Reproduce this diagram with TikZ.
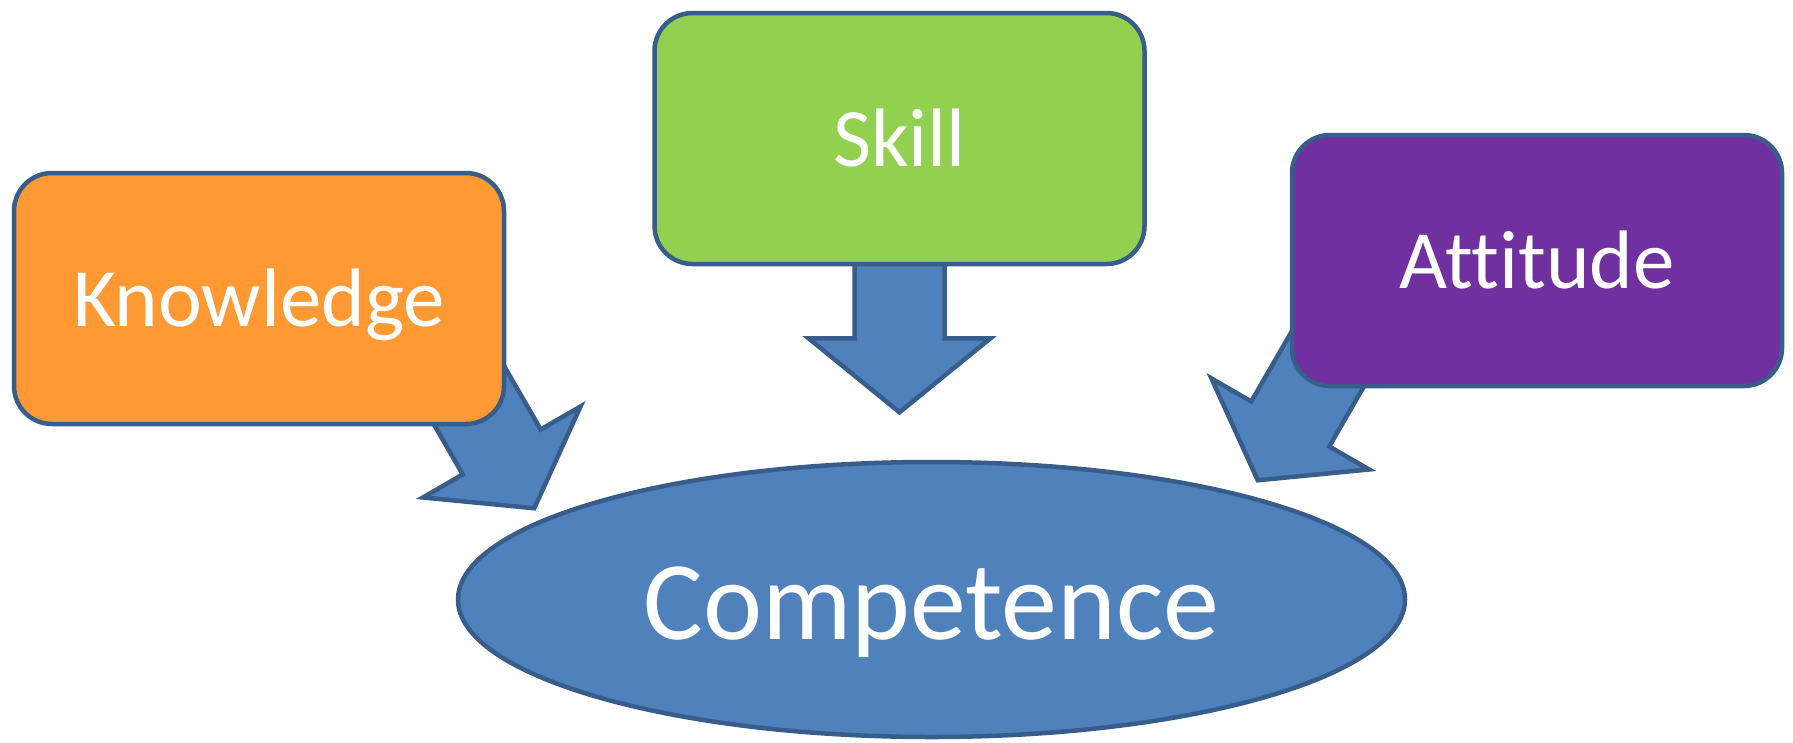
\documentclass[tikz,border=0pt]{standalone}
\usepackage{fontspec}
\setmainfont{Carlito}[Ligatures={NoCommon}]
\usetikzlibrary{shapes.geometric,backgrounds,calc}
\definecolor{borderblue}{HTML}{385D8A}
\definecolor{fillblue}{HTML}{4F81BD}
\definecolor{korange}{HTML}{FF9933}
\definecolor{sgreen}{HTML}{92D050}
\definecolor{apurple}{HTML}{7030A0}
\begin{document}
\begin{tikzpicture}[x=1pt,y=-1pt,
  box/.style={draw=borderblue, line width=4.5pt, rounded corners=38pt,
    minimum width=490pt, minimum height=251pt, inner sep=0pt, text=white,
    font=\fontsize{83}{90}\selectfont, text height=56pt, text depth=0pt},
  comp/.style={ellipse, draw=borderblue, line width=4.5pt, fill=fillblue,
    minimum width=947pt, minimum height=275pt, inner sep=0pt, text=white,
    font=\fontsize{112}{120}\selectfont, text height=80pt, text depth=0pt},
  blockarrow/.style={draw=borderblue, line width=4.5pt, fill=fillblue, line join=miter}]
\useasboundingbox (0,0) rectangle (1793,742);
\node[box, fill=korange] (know) at (259,298.5) {Knowledge};
\node[box, fill=sgreen] (skill) at (899.5,138.5) {Skill};
\node[box, fill=apurple] (att) at (1537,260.5) {Attitude};
\node[comp] (comp) at (931.5,599.5) {Competence};
\coordinate (stip) at ($(skill.south)+(0,146)$);
\coordinate (ktip) at ($(know.south east)+(28,82)$);
\coordinate (atip) at ($(att.south west)+(-32,92)$);
\begin{scope}[on background layer]
  \begin{scope}[shift={(stip)}]
    \draw[blockarrow] (-45,-210) -- (-45,-74) -- (-91,-74) -- (0,0) -- (91,-74) -- (45,-74) -- (45,-210) -- cycle;
  \end{scope}
  \begin{scope}[shift={(ktip)}, rotate=30]
    \draw[blockarrow] (-45,-200) -- (-45,-65) -- (-91,-65) -- (0,0) -- (91,-65) -- (45,-65) -- (45,-200) -- cycle;
  \end{scope}
  \begin{scope}[shift={(atip)}, rotate=-30]
    \draw[blockarrow] (-45,-200) -- (-45,-65) -- (-91,-65) -- (0,0) -- (91,-65) -- (45,-65) -- (45,-200) -- cycle;
  \end{scope}
\end{scope}
\end{tikzpicture}
\end{document}
